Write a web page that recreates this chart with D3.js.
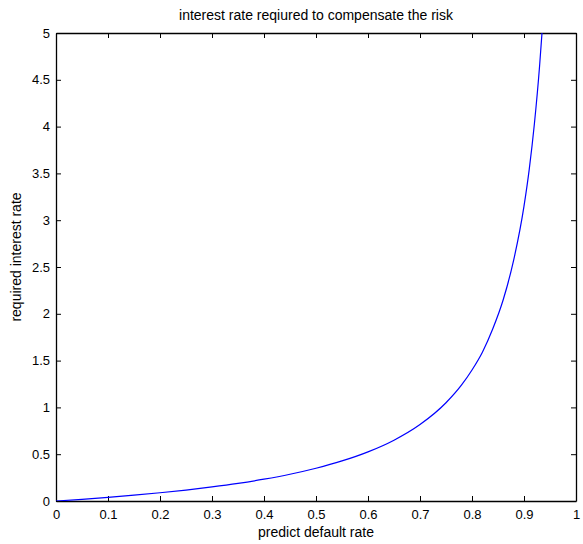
<!DOCTYPE html>
<html>
<head>
<meta charset="utf-8">
<script src="https://cdn.jsdelivr.net/npm/d3@7"></script>
<style>
  body { margin: 0; background: #fff; }
  text { font-family: "Liberation Sans", Arial, sans-serif; fill: #000; }
</style>
</head>
<body>
<div id="chart"></div>
<script>
// values
const defaultRate = [0, 0.05, 0.1, 0.15, 0.2, 0.25, 0.3, 0.35, 0.4, 0.45, 0.5, 0.55, 0.6, 0.65,
    0.7, 0.75, 0.78, 0.8, 0.82, 0.84, 0.86, 0.88, 0.9, 0.91, 0.92, 0.93, 0.935];
const interestRate = [0, 0.018, 0.039, 0.062, 0.088, 0.117, 0.15, 0.188, 0.233, 0.286, 0.35, 0.428,
    0.525, 0.65, 0.817, 1.05, 1.24, 1.4, 1.59, 1.84, 2.15, 2.57, 3.15, 3.54, 4.03, 4.65, 5.03];
const xTicks = [0, 0.1, 0.2, 0.3, 0.4, 0.5, 0.6, 0.7, 0.8, 0.9, 1];
const yTicks = [0, 0.5, 1, 1.5, 2, 2.5, 3, 3.5, 4, 4.5, 5];

const titleText = "interest rate reqiured to compensate the risk",
    xLabel = "predict default rate",
    yLabel = "required interest rate";

let width = 583,
    height = 544,
    margin = {top: 33, right: 7, bottom: 43, left: 56};

let plotW = width - margin.left - margin.right,
    plotH = height - margin.top - margin.bottom;

let svg = d3.select("#chart").append("svg")
    .attr("width", width)
    .attr("height", height);

let x = d3.scaleLinear().domain([0, 1]).range([0, plotW]);
let y = d3.scaleLinear().domain([0, 5]).range([plotH, 0]);

let g = svg.append("g")
    .attr("transform", `translate(${margin.left},${margin.top})`);

// clip
g.append("clipPath").attr("id", "clip")
    .append("rect").attr("width", plotW).attr("height", plotH);

// Axes (ticks inward on all four sides)
// ---------------------------------------------------------
function styleAxis(sel) {
    sel.select(".domain").attr("stroke", "#000").attr("stroke-width", 1.3);
    sel.selectAll(".tick line").attr("stroke", "#000");
    sel.selectAll(".tick text").style("font-size", "13px");
}

g.append("g")
    .attr("transform", `translate(0,${plotH})`)
    .call(d3.axisBottom(x).tickValues(xTicks).tickFormat(d3.format("")).tickSizeInner(-5).tickSizeOuter(0).tickPadding(9))
    .call(styleAxis);

g.append("g")
    .call(d3.axisTop(x).tickValues(xTicks).tickFormat("").tickSizeInner(-5).tickSizeOuter(0))
    .call(styleAxis);

g.append("g")
    .call(d3.axisLeft(y).tickValues(yTicks).tickFormat(d3.format("")).tickSizeInner(-5).tickSizeOuter(0).tickPadding(6))
    .call(styleAxis);

g.append("g")
    .attr("transform", `translate(${plotW},0)`)
    .call(d3.axisRight(y).tickValues(yTicks).tickFormat("").tickSizeInner(-5).tickSizeOuter(0))
    .call(styleAxis);

g.selectAll(".tick text").attr("font-family", "Liberation Sans, Arial, sans-serif");

// Curve
// ---------------------------------------------------------
let points = defaultRate.map((d, i) => ({p: d, r: interestRate[i]}));

let lineGen = d3.line()
    .x(d => x(d.p))
    .y(d => y(d.r))
    .curve(d3.curveMonotoneX);

g.append("path")
    .datum(points)
    .attr("clip-path", "url(#clip)")
    .attr("d", lineGen)
    .attr("fill", "none")
    .attr("stroke", "#0000ff")
    .attr("stroke-width", 1.2);

// Labels
// ---------------------------------------------------------
svg.append("text")
    .attr("x", margin.left + plotW / 2)
    .attr("y", 20)
    .attr("text-anchor", "middle")
    .style("font-size", "14px")
    .text(titleText);

svg.append("text")
    .attr("x", margin.left + plotW / 2)
    .attr("y", 537)
    .attr("text-anchor", "middle")
    .style("font-size", "14px")
    .text(xLabel);

svg.append("text")
    .attr("transform", `translate(21,257) rotate(-90)`)
    .attr("text-anchor", "middle")
    .style("font-size", "14px")
    .text(yLabel);
</script>
</body>
</html>
